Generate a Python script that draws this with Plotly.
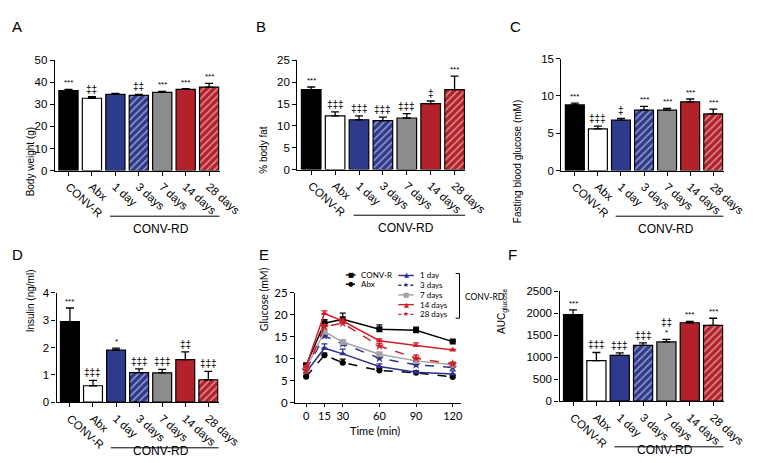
import plotly.graph_objects as go

W, H = 758, 463

# ---------------- data ----------------
categories = ["CONV-R", "Abx", "1 day", "3 days", "7 days", "14 days", "28 days"]

body_weight = [36.3, 32.8, 34.6, 34.1, 35.5, 36.8, 37.9]
body_weight_err = [0.5, 0.7, 0.4, 0.5, 0.4, 0.4, 1.7]
body_weight_sig = ["***", "‡‡", "", "‡‡", "***", "***", "***"]

body_fat = [18.3, 12.3, 11.4, 11.2, 11.8, 15.1, 18.3]
body_fat_err = [0.6, 0.9, 0.9, 0.8, 1.0, 0.6, 3.1]
body_fat_sig = ["***", "‡‡‡", "‡‡‡", "‡‡‡", "‡‡‡", "‡", "***"]

fasting_glucose = [8.8, 5.6, 6.75, 8.1, 8.1, 9.2, 7.6]
fasting_glucose_err = [0.25, 0.35, 0.25, 0.5, 0.25, 0.4, 0.65]
fasting_glucose_sig = ["***", "‡‡‡", "‡", "***", "***", "***", "***"]

insulin = [2.95, 0.6, 1.91, 1.08, 1.07, 1.56, 0.82]
insulin_err = [0.5, 0.2, 0.07, 0.14, 0.13, 0.28, 0.31]
insulin_sig = ["***", "‡‡‡", "*", "‡‡‡", "‡‡‡", "‡‡", "‡‡‡"]

auc = [1963, 920, 1040, 1265, 1345, 1780, 1722]
auc_err = [110, 185, 58, 58, 58, 30, 160]
auc_sig = ["***", "‡‡‡", "‡‡‡", "‡‡‡", "*", "***", "***"]
auc_sig2 = ["", "", "", "", "‡‡", "", ""]

time_min = [0, 15, 30, 60, 90, 120]
gtt_conv_r = [8.5, 18.1, 19.0, 16.7, 16.5, 13.9]
gtt_conv_r_err = [0.3, 0.8, 1.4, 1.0, 0.7, 0.3]
gtt_abx = [5.85, 10.8, 9.1, 7.3, 6.8, 5.8]
gtt_abx_err = [0.3, 0.5, 0.8, 0.5, 0.4, 0.4]
gtt_1d = [6.9, 12.4, 11.1, 8.2, 6.9, 6.5]
gtt_1d_err = [0.4, 1.0, 1.1, 0.6, 0.3, 0.7]
gtt_3d = [7.5, 15.2, 13.4, 10.1, 8.6, 8.0]
gtt_3d_err = [0.3, 0.6, 0.7, 0.4, 0.5, 0.4]
gtt_7d = [7.8, 16.2, 13.8, 11.0, 9.5, 8.6]
gtt_7d_err = [0.3, 0.5, 0.4, 0.3, 0.3, 0.3]
gtt_14d = [8.2, 20.3, 18.6, 14.1, 13.0, 12.0]
gtt_14d_err = [0.3, 0.6, 0.5, 0.4, 0.6, 0.2]
gtt_28d = [7.3, 17.3, 18.1, 12.9, 10.1, 8.8]
gtt_28d_err = [0.3, 0.5, 0.4, 0.6, 0.7, 0.4]

# ---------------- styles ----------------
NAVY = "#2e3a8c"
RED = "#b3222a"
GRAY = "#8c8c8e"
bar_fill = ["#000000", "#ffffff", NAVY, NAVY, GRAY, RED, RED]
bar_hatch = ["", "", "", "/", "", "", "/"]

gtt_series = [gtt_conv_r, gtt_abx, gtt_1d, gtt_3d, gtt_7d, gtt_14d, gtt_28d]
gtt_errors = [gtt_conv_r_err, gtt_abx_err, gtt_1d_err, gtt_3d_err, gtt_7d_err, gtt_14d_err, gtt_28d_err]
gtt_colors = ["#000000", "#000000", "#2e3192", "#2e3192", "#a3a3a5", "#d0202a", "#d0202a"]
gtt_dash = ["solid", "dash", "solid", "dash", "solid", "solid", "dash"]
gtt_symbol = ["square", "circle", "triangle-up", "star", "square", "triangle-up", "star"]
gtt_glyph = ["■", "●", "▲", "★", "■", "▲", "★"]

FONT = "Liberation Sans, Arial, sans-serif"
EFONT = "Lato, Liberation Sans, sans-serif"


def px(x):
    return x / W


def py(y):
    return 1 - y / H


fig = go.Figure()
annotations = []
shapes = []

axis_common = dict(showline=True, linecolor="black", linewidth=1.4, ticks="outside",
                   ticklen=4, tickwidth=1.2, tickcolor="black", showgrid=False,
                   zeroline=False, fixedrange=True)

# (letter, values, errors, sig, sig2, title, ymax, dtick, xpix, ypix, axis index, title pos)
bar_panels = [
    ("A", body_weight, body_weight_err, body_weight_sig, None, "Body weight (g)", 50, 10,
     (48.3, 218), (46.7, 160), 1, (15, 114)),
    ("B", body_fat, body_fat_err, body_fat_sig, None, "% body fat", 25, 5,
     (298, 471), (46.7, 159), 2, (263, 113)),
    ("C", fasting_glucose, fasting_glucose_err, fasting_glucose_sig, None,
     "Fasting blood glucose (mM)", 15, 5, (570, 737), (45, 160), 3, (532, 86)),
    ("D", insulin, insulin_err, insulin_sig, None, "Insulin (ng/ml)", 4, 1,
     (50, 217), (286, 398.3), 4, (15, 329)),
    ("F", auc, auc_err, auc_sig, auc_sig2, "AUC<sub>glucose</sub>", 2500, 500,
     (568, 737), (284, 397.3), 6, (518, 305)),
]

letters = [("A", 2, 1), ("B", 253, 1), ("C", 515, 1), ("D", 2, 236), ("E", 256, 236), ("F", 513, 236)]

layout_axes = {}
for (letter, vals, errs, sig, sig2, title, ymax, dtick, xpix, ypix, k, tpos) in bar_panels:
    xa = "x" if k == 1 else f"x{k}"
    ya = "y" if k == 1 else f"y{k}"
    fig.add_trace(go.Bar(
        x=categories, y=vals, xaxis=xa, yaxis=ya, showlegend=False,
        marker=dict(color=bar_fill, line=dict(color="black", width=1.2),
                    pattern=dict(shape=bar_hatch, fgcolor="#ffffff", size=5, solidity=0.3)),
        error_y=dict(type="data", array=errs, arrayminus=[0] * len(errs), symmetric=False,
                     color="black", thickness=1.3, width=4),
    ))
    xkey = "xaxis" if k == 1 else f"xaxis{k}"
    ykey = "yaxis" if k == 1 else f"yaxis{k}"
    layout_axes[xkey] = dict(axis_common, domain=[px(xpix[0]), px(xpix[1])], anchor=ya,
                             type="category", categoryorder="array", categoryarray=categories,
                             range=[-0.58, 6.45], tickangle=42,
                             tickfont=dict(family=FONT, size=11.5, color="black"))
    layout_axes[ykey] = dict(axis_common, domain=[py(ypix[1]), py(ypix[0])], anchor=xa,
                             range=[0, ymax], dtick=dtick, tick0=0,
                             tickfont=dict(family=FONT, size=11.5, color="black"))
    # significance marks
    for i, s in enumerate(sig):
        if s:
            annotations.append(dict(x=categories[i], y=vals[i] + errs[i], xref=xa, yref=ya,
                                    text=s, showarrow=False, yanchor="bottom",
                                    font=dict(family=FONT, size=8 if "*" in s else 10, color="black")))
    if sig2:
        for i, s in enumerate(sig2):
            if s:
                annotations.append(dict(x=categories[i], y=vals[i] + errs[i], xref=xa, yref=ya,
                                        text=s, showarrow=False, yanchor="bottom", yshift=9,
                                        font=dict(family=FONT, size=10, color="black")))
    # y title
    annotations.append(dict(x=px(tpos[0]), y=py(tpos[1]), xref="paper", yref="paper",
                            text=title, textangle=-90, showarrow=False,
                            font=dict(family=FONT, size=10, color="black")))
    # CONV-RD grouping line and label
    shapes.append(dict(type="line", xref=xa, yref="paper", x0=1.77, x1=6.45,
                       y0=py(ypix[1] + 47), y1=py(ypix[1] + 47),
                       line=dict(color="black", width=1)))
    annotations.append(dict(x=3.95, y=py(ypix[1] + 60), xref=xa, yref="paper",
                            text="CONV-RD", showarrow=False,
                            font=dict(family=FONT, size=12, color="black")))

# ---------------- panel E ----------------
for name, vals, errs, col, dash, sym in zip(categories, gtt_series, gtt_errors, gtt_colors, gtt_dash, gtt_symbol):
    fig.add_trace(go.Scatter(
        x=time_min, y=vals, xaxis="x5", yaxis="y5", mode="lines+markers", name=name,
        showlegend=False,
        line=dict(color=col, width=1.5, dash=dash),
        marker=dict(symbol=sym, size=7 if sym == "star" else 6, color=col, line=dict(width=0)),
        error_y=dict(type="data", array=errs, arrayminus=[0] * len(errs), symmetric=False,
                     color=col, thickness=1.2, width=3),
    ))

layout_axes["xaxis5"] = dict(axis_common, domain=[px(295.7), px(466.8)], anchor="y5",
                             range=[-9, 127], tickvals=time_min, ticklen=3,
                             tickfont=dict(family=EFONT, size=11, color="black"))
layout_axes["yaxis5"] = dict(axis_common, domain=[py(398.7), py(286)], anchor="x5",
                             range=[0, 25], dtick=5, tick0=0,
                             tickfont=dict(family=EFONT, size=11.5, color="black"))
annotations.append(dict(x=px(378), y=py(435), xref="paper", yref="paper", text="Time (min)",
                        showarrow=False, borderpad=0,
                        font=dict(family=EFONT, size=11, color="black")))
annotations.append(dict(x=px(263), y=py(327), xref="paper", yref="paper", text="Glucose (mM)",
                        textangle=-90, showarrow=False,
                        font=dict(family=EFONT, size=10.5, color="black")))

# manual legend for E
legend_rows = [(0, 348, 358, 267.5), (1, 348, 358, 277),
               (2, 402, 418, 268), (3, 402, 418, 278), (4, 402, 418, 288),
               (5, 402, 418, 298), (6, 402, 418, 308)]
for idx, x0, x1, yy in legend_rows:
    shapes.append(dict(type="line", xref="paper", yref="paper", x0=px(x0), x1=px(x1),
                       y0=py(yy), y1=py(yy),
                       line=dict(color=gtt_colors[idx], width=1.4,
                                 dash="dot" if gtt_dash[idx] == "dash" else "solid")))
    annotations.append(dict(x=px((x0 + x1) / 2), y=py(yy), xref="paper", yref="paper",
                            text=gtt_glyph[idx], showarrow=False, borderpad=0,
                            font=dict(family="DejaVu Sans", size=6.5, color=gtt_colors[idx])))
    annotations.append(dict(x=px(x1 + 5), y=py(yy), xref="paper", yref="paper",
                            text=categories[idx], showarrow=False, xanchor="left", borderpad=0,
                            font=dict(family=EFONT, size=8, color="black")))
# bracket
shapes.append(dict(type="path", xref="paper", yref="paper",
                   path=f"M {px(461)},{py(266)} L {px(465)},{py(266)} L {px(465)},{py(312)} L {px(461)},{py(312)}",
                   line=dict(color="black", width=1)))
annotations.append(dict(x=px(469), y=py(290), xref="paper", yref="paper", text="CONV-RD",
                        showarrow=False, xanchor="left",
                        font=dict(family=EFONT, size=8.5, color="black")))

# panel letters
for t, lx, ly in letters:
    annotations.append(dict(x=px(lx), y=py(ly), xref="paper", yref="paper", text=t,
                            showarrow=False, xanchor="left", yanchor="top",
                            font=dict(family=FONT, size=15, color="black")))

fig.update_layout(
    width=W, height=H, margin=dict(l=0, r=0, t=0, b=0),
    paper_bgcolor="white", plot_bgcolor="white",
    bargap=0.18, showlegend=False,
    annotations=annotations, shapes=shapes,
    **layout_axes,
)

fig.write_html("out.html")
